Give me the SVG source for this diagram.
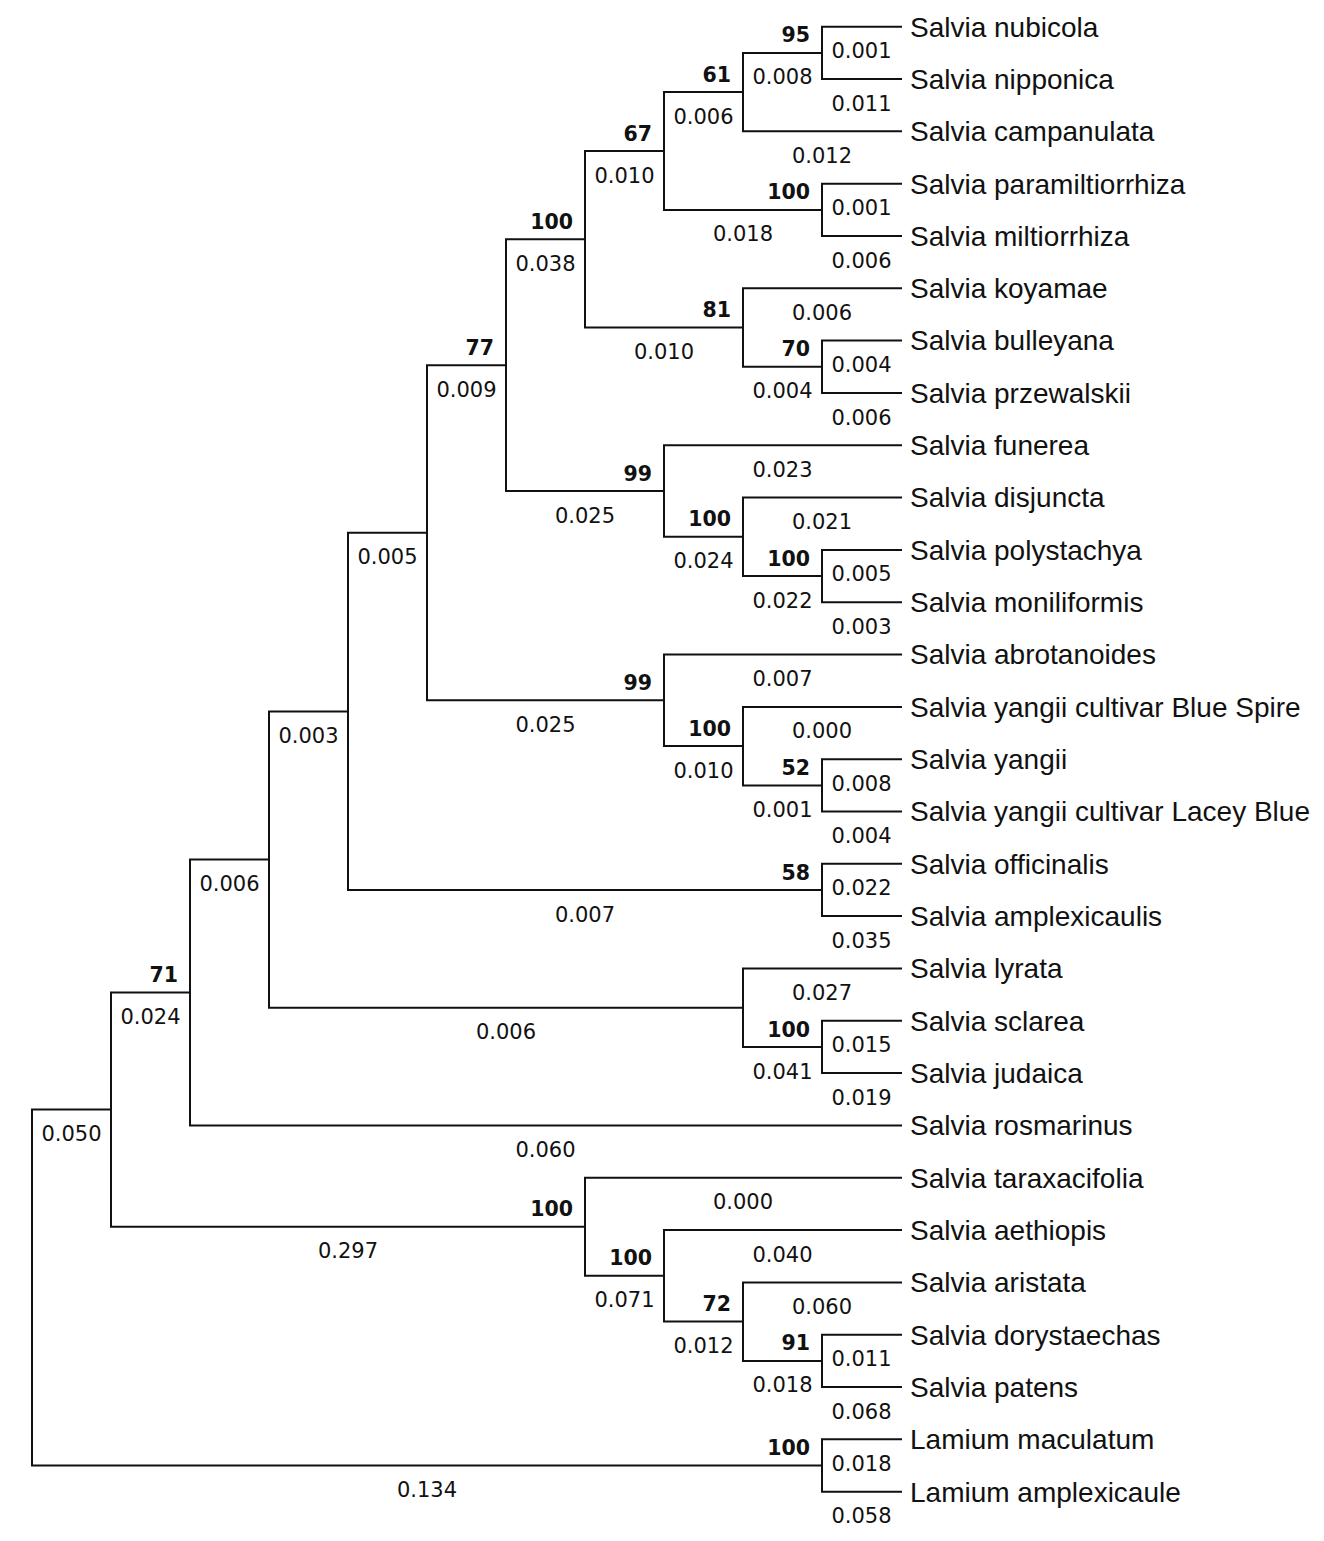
<svg xmlns="http://www.w3.org/2000/svg" width="1324" height="1541" viewBox="0 0 1324 1541">
<style>
.br{fill:none;stroke:#111;stroke-width:2;stroke-linejoin:miter;stroke-linecap:square}
.lf{font-family:"Liberation Sans",Arial,sans-serif;font-size:28px;fill:#111}
.bl{font-family:"DejaVu Sans",Verdana,sans-serif;font-size:21px;fill:#111;text-anchor:middle}
.bs{font-family:"DejaVu Sans",Verdana,sans-serif;font-size:20.5px;font-weight:bold;fill:#111;text-anchor:end}
</style>
<rect width="1324" height="1541" fill="#fff"/>
<g id="connectors">
<path class="br" d="M32 1287.6V1109.6H111M32 1287.6V1465.5H822"/>
<path class="br" d="M111 1109.6V992.5H190M111 1109.6V1226.8H585"/>
<path class="br" d="M190 992.5V859.6H269M190 992.5V1125.4H901"/>
<path class="br" d="M269 859.6V711.4H348M269 859.6V1007.7H743"/>
<path class="br" d="M348 711.4V532.8H427M348 711.4V890H822"/>
<path class="br" d="M427 532.8V365.2H506M427 532.8V700.3H664"/>
<path class="br" d="M506 365.2V239.3H585M506 365.2V491.1H664"/>
<path class="br" d="M585 239.3V151H664M585 239.3V327.6H743"/>
<path class="br" d="M664 151V92.1H743M664 151V209.9H822"/>
<path class="br" d="M743 92.1V52.9H822M743 92.1V131.3H901"/>
<path class="br" d="M822 52.9V26.7H901M822 52.9V79H901"/>
<path class="br" d="M822 209.9V183.7H901M822 209.9V236H901"/>
<path class="br" d="M743 327.6V288.3H901M743 327.6V366.8H822"/>
<path class="br" d="M822 366.8V340.6H901M822 366.8V393H901"/>
<path class="br" d="M664 491.1V445.3H901M664 491.1V536.8H743"/>
<path class="br" d="M743 536.8V497.6H901M743 536.8V576.1H822"/>
<path class="br" d="M822 576.1V549.9H901M822 576.1V602.2H901"/>
<path class="br" d="M664 700.3V654.5H901M664 700.3V746.1H743"/>
<path class="br" d="M743 746.1V706.9H901M743 746.1V785.4H822"/>
<path class="br" d="M822 785.4V759.2H901M822 785.4V811.5H901"/>
<path class="br" d="M822 890V863.8H901M822 890V916.1H901"/>
<path class="br" d="M743 1007.7V968.5H901M743 1007.7V1047H822"/>
<path class="br" d="M822 1047V1020.8H901M822 1047V1073.1H901"/>
<path class="br" d="M585 1226.8V1177.7H901M585 1226.8V1275.8H664"/>
<path class="br" d="M664 1275.8V1230.1H901M664 1275.8V1321.6H743"/>
<path class="br" d="M743 1321.6V1282.4H901M743 1321.6V1360.9H822"/>
<path class="br" d="M822 1360.9V1334.7H901M822 1360.9V1387H901"/>
<path class="br" d="M822 1465.5V1439.3H901M822 1465.5V1491.7H901"/>
</g>
<g id="leaves">
<g id="leaf-nubicola"><text class="lf" x="910" y="36.5">Salvia nubicola</text><text class="bl" x="861.5" y="58.2">0.001</text></g>
<g id="leaf-nipponica"><text class="lf" x="910" y="88.8">Salvia nipponica</text><text class="bl" x="861.5" y="110.5">0.011</text></g>
<g id="leaf-campanulata"><text class="lf" x="910" y="141.1">Salvia campanulata</text><text class="bl" x="822" y="162.8">0.012</text></g>
<g id="leaf-paramiltiorrhiza"><text class="lf" x="910" y="193.5">Salvia paramiltiorrhiza</text><text class="bl" x="861.5" y="215.2">0.001</text></g>
<g id="leaf-miltiorrhiza"><text class="lf" x="910" y="245.8">Salvia miltiorrhiza</text><text class="bl" x="861.5" y="267.5">0.006</text></g>
<g id="leaf-koyamae"><text class="lf" x="910" y="298.1">Salvia koyamae</text><text class="bl" x="822" y="319.8">0.006</text></g>
<g id="leaf-bulleyana"><text class="lf" x="910" y="350.4">Salvia bulleyana</text><text class="bl" x="861.5" y="372.1">0.004</text></g>
<g id="leaf-przewalskii"><text class="lf" x="910" y="402.8">Salvia przewalskii</text><text class="bl" x="861.5" y="424.5">0.006</text></g>
<g id="leaf-funerea"><text class="lf" x="910" y="455.1">Salvia funerea</text><text class="bl" x="782.5" y="476.8">0.023</text></g>
<g id="leaf-disjuncta"><text class="lf" x="910" y="507.4">Salvia disjuncta</text><text class="bl" x="822" y="529.1">0.021</text></g>
<g id="leaf-polystachya"><text class="lf" x="910" y="559.7">Salvia polystachya</text><text class="bl" x="861.5" y="581.4">0.005</text></g>
<g id="leaf-moniliformis"><text class="lf" x="910" y="612">Salvia moniliformis</text><text class="bl" x="861.5" y="633.7">0.003</text></g>
<g id="leaf-abrotanoides"><text class="lf" x="910" y="664.3">Salvia abrotanoides</text><text class="bl" x="782.5" y="686">0.007</text></g>
<g id="leaf-yangii-bluespire"><text class="lf" x="910" y="716.7">Salvia yangii cultivar Blue Spire</text><text class="bl" x="822" y="738.4">0.000</text></g>
<g id="leaf-yangii"><text class="lf" x="910" y="769">Salvia yangii</text><text class="bl" x="861.5" y="790.7">0.008</text></g>
<g id="leaf-yangii-laceyblue"><text class="lf" x="910" y="821.3">Salvia yangii cultivar Lacey Blue</text><text class="bl" x="861.5" y="843">0.004</text></g>
<g id="leaf-officinalis"><text class="lf" x="910" y="873.6">Salvia officinalis</text><text class="bl" x="861.5" y="895.3">0.022</text></g>
<g id="leaf-amplexicaulis"><text class="lf" x="910" y="925.9">Salvia amplexicaulis</text><text class="bl" x="861.5" y="947.6">0.035</text></g>
<g id="leaf-lyrata"><text class="lf" x="910" y="978.3">Salvia lyrata</text><text class="bl" x="822" y="1000">0.027</text></g>
<g id="leaf-sclarea"><text class="lf" x="910" y="1030.6">Salvia sclarea</text><text class="bl" x="861.5" y="1052.3">0.015</text></g>
<g id="leaf-judaica"><text class="lf" x="910" y="1082.9">Salvia judaica</text><text class="bl" x="861.5" y="1104.6">0.019</text></g>
<g id="leaf-rosmarinus"><text class="lf" x="910" y="1135.2">Salvia rosmarinus</text><text class="bl" x="545.5" y="1156.9">0.060</text></g>
<g id="leaf-taraxacifolia"><text class="lf" x="910" y="1187.5">Salvia taraxacifolia</text><text class="bl" x="743" y="1209.2">0.000</text></g>
<g id="leaf-aethiopis"><text class="lf" x="910" y="1239.9">Salvia aethiopis</text><text class="bl" x="782.5" y="1261.6">0.040</text></g>
<g id="leaf-aristata"><text class="lf" x="910" y="1292.2">Salvia aristata</text><text class="bl" x="822" y="1313.9">0.060</text></g>
<g id="leaf-dorystaechas"><text class="lf" x="910" y="1344.5">Salvia dorystaechas</text><text class="bl" x="861.5" y="1366.2">0.011</text></g>
<g id="leaf-patens"><text class="lf" x="910" y="1396.8">Salvia patens</text><text class="bl" x="861.5" y="1418.5">0.068</text></g>
<g id="leaf-lamium-maculatum"><text class="lf" x="910" y="1449.1">Lamium maculatum</text><text class="bl" x="861.5" y="1470.8">0.018</text></g>
<g id="leaf-lamium-amplexicaule"><text class="lf" x="910" y="1501.5">Lamium amplexicaule</text><text class="bl" x="861.5" y="1523.2">0.058</text></g>
</g>
<g id="internal-nodes">
<g id="n95"><text class="bs" x="810" y="42.4">95</text><text class="bl" x="782.5" y="84.4">0.008</text></g>
<g id="n61"><text class="bs" x="731" y="81.6">61</text><text class="bl" x="703.5" y="123.6">0.006</text></g>
<g id="n100a"><text class="bs" x="810" y="199.4">100</text><text class="bl" x="743" y="241.4">0.018</text></g>
<g id="n67"><text class="bs" x="652" y="140.5">67</text><text class="bl" x="624.5" y="182.5">0.010</text></g>
<g id="n70"><text class="bs" x="810" y="356.3">70</text><text class="bl" x="782.5" y="398.3">0.004</text></g>
<g id="n81"><text class="bs" x="731" y="317.1">81</text><text class="bl" x="664" y="359.1">0.010</text></g>
<g id="n100b"><text class="bs" x="573" y="228.8">100</text><text class="bl" x="545.5" y="270.8">0.038</text></g>
<g id="n100d"><text class="bs" x="810" y="565.6">100</text><text class="bl" x="782.5" y="607.6">0.022</text></g>
<g id="n100c"><text class="bs" x="731" y="526.3">100</text><text class="bl" x="703.5" y="568.3">0.024</text></g>
<g id="n99a"><text class="bs" x="652" y="480.6">99</text><text class="bl" x="585" y="522.6">0.025</text></g>
<g id="n77"><text class="bs" x="494" y="354.7">77</text><text class="bl" x="466.5" y="396.7">0.009</text></g>
<g id="n52"><text class="bs" x="810" y="774.9">52</text><text class="bl" x="782.5" y="816.9">0.001</text></g>
<g id="n100e"><text class="bs" x="731" y="735.6">100</text><text class="bl" x="703.5" y="777.6">0.010</text></g>
<g id="n99b"><text class="bs" x="652" y="689.8">99</text><text class="bl" x="545.5" y="731.8">0.025</text></g>
<g id="nx5"><text class="bl" x="387.5" y="564.3">0.005</text></g>
<g id="n58"><text class="bs" x="810" y="879.5">58</text><text class="bl" x="585" y="921.5">0.007</text></g>
<g id="nx3"><text class="bl" x="308.5" y="742.9">0.003</text></g>
<g id="n100f"><text class="bs" x="810" y="1036.5">100</text><text class="bl" x="782.5" y="1078.5">0.041</text></g>
<g id="nlyr"><text class="bl" x="506" y="1039.2">0.006</text></g>
<g id="nx6"><text class="bl" x="229.5" y="891.1">0.006</text></g>
<g id="n71"><text class="bs" x="178" y="982">71</text><text class="bl" x="150.5" y="1024">0.024</text></g>
<g id="n91"><text class="bs" x="810" y="1350.4">91</text><text class="bl" x="782.5" y="1392.4">0.018</text></g>
<g id="n72"><text class="bs" x="731" y="1311.1">72</text><text class="bl" x="703.5" y="1353.1">0.012</text></g>
<g id="n100h"><text class="bs" x="652" y="1265.3">100</text><text class="bl" x="624.5" y="1307.3">0.071</text></g>
<g id="n100g"><text class="bs" x="573" y="1216.3">100</text><text class="bl" x="348" y="1258.3">0.297</text></g>
<g id="nc1"><text class="bl" x="71.5" y="1141.1">0.050</text></g>
<g id="nlam"><text class="bs" x="810" y="1455">100</text><text class="bl" x="427" y="1497">0.134</text></g>
<g id="root"/>
</g>
</svg>
